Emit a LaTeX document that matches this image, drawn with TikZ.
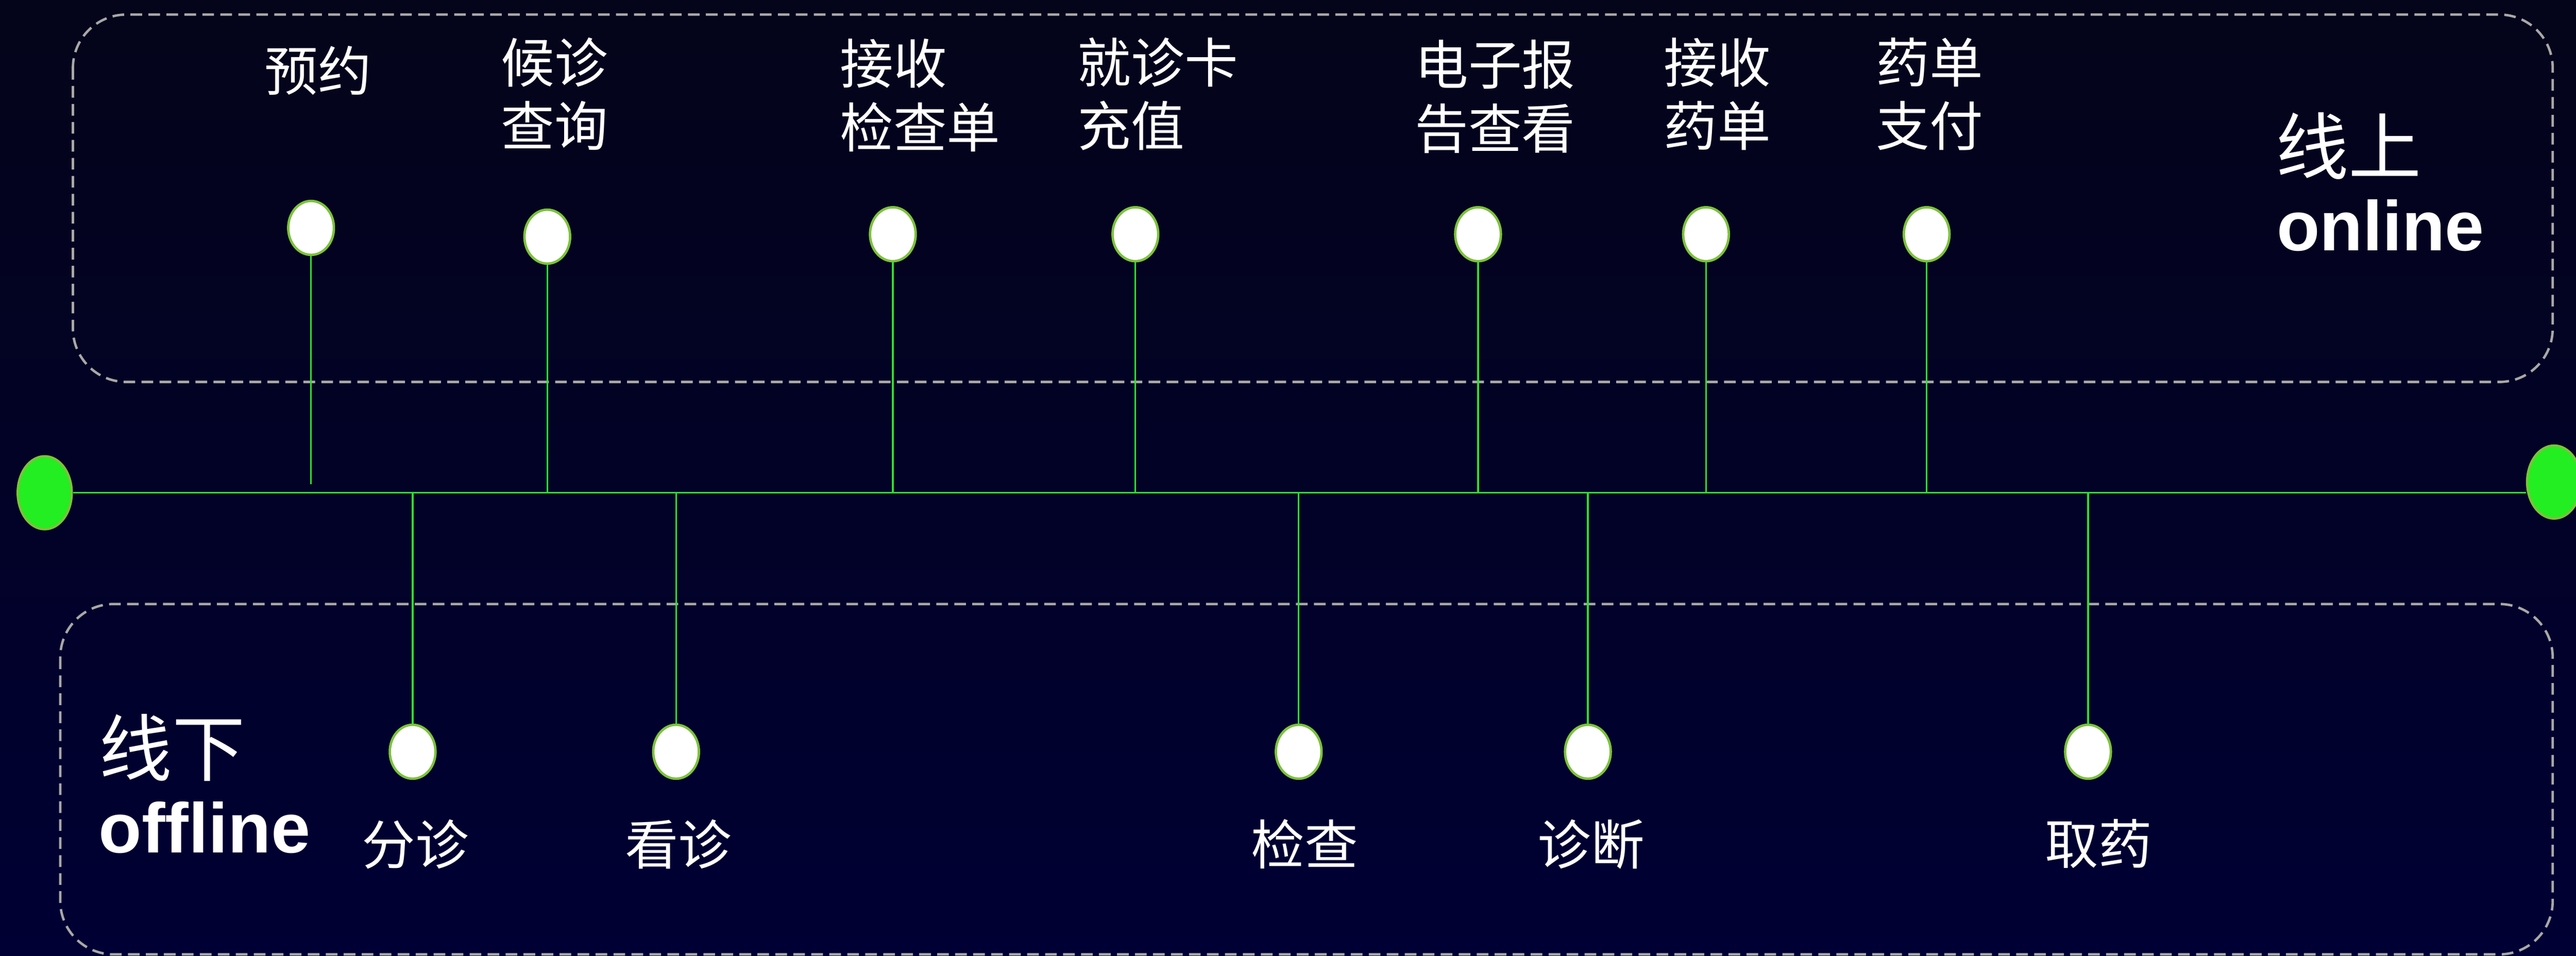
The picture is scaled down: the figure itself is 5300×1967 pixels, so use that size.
\documentclass[tikz,border=0pt]{standalone}
\usepackage{fontspec}
\usepackage{xcolor}
\usetikzlibrary{shapes.geometric}
\newfontfamily\cjk{Noto Sans CJK SC}
\newfontfamily\latin[Ligatures=CommonOff]{Liberation Sans}

\definecolor{bgtop}{HTML}{04041A}
\definecolor{bgbot}{HTML}{000034}
\definecolor{dashgray}{HTML}{A8A8A8}
\definecolor{linegreen}{HTML}{30DD30}
\definecolor{ringgreen}{HTML}{7CC23A}
\definecolor{dotgreen}{HTML}{22EE22}

\tikzset{
  stage/.style={ellipse, draw=ringgreen, line width=5pt, fill=white,
    minimum width=94pt, minimum height=111pt, inner sep=0pt},
  endpoint/.style={ellipse, draw=ringgreen, line width=5pt, fill=dotgreen,
    minimum width=111pt, minimum height=150pt, inner sep=0pt},
  stem/.style={draw=linegreen, line width=3.5pt},
  zone/.style={draw=dashgray, line width=5pt, dash pattern=on 24pt off 13pt,
    rounded corners=110pt},
  lbl/.style={text=white, inner sep=0pt, align=left,
    font=\cjk\fontsize{110}{131}\selectfont},
  zonecn/.style={text=white, inner sep=0pt, font=\cjk\fontsize{150}{150}\selectfont},
  zoneen/.style={text=white, inner sep=0pt, font=\latin\bfseries\fontsize{145}{145}\selectfont}
}

\begin{document}
\begin{tikzpicture}[x=1pt,y=-1pt]
  % Background
  \fill[top color=bgtop, bottom color=bgbot] (0,0) rectangle (5300,1967);
  \useasboundingbox (0,0) rectangle (5300,1967);

  % Online / offline zones
  \draw[zone] (150,30) rectangle (5252,786);
  \draw[zone] (124,1243) rectangle (5252,1964);
  \node[zonecn, anchor=north west] (oncn) at (4682,231) {线上};
  \node[zoneen, anchor=base west] (onen) at (4684,516) {online};
  \node[zonecn, anchor=north west] (offcn) at (204,1469) {线下};
  \node[zoneen, anchor=base west] (offen) at (203,1755) {offline};

  % Timeline
  \node[endpoint] (start) at (92,1014) {};
  \node[endpoint] (finish) at (5255,992) {};
  \draw[stem, line width=2.5pt] (start) -- (start -| finish.west);

  % Online steps
  \foreach \n/\x/\y/\e in {1/640/469/996, 2/1126/487/1014, 3/1837/482/1012,
      4/2336/482/1012, 5/3041/482/1012, 6/3510/482/1012, 7/3964/482/1012} {
    \node[stage] (t\n) at (\x,\y) {};
    \coordinate (e\n) at (\x,\e);
    \draw[stem] (t\n) -- (e\n);
  }
  \foreach \n/\x/\y/\txt in {1/544/95/预约, 2/1031/77/{候诊\\查询},
      3/1728/80/{接收\\检查单}, 4/2217/77/{就诊卡\\充值},
      5/2911/82/{电子报\\告查看}, 6/3423/77/{接收\\药单}, 7/3860/77/{药单\\支付}} {
    \node[lbl, anchor=north west] (tl\n) at (\x,\y) {\txt};
  }

  % Offline steps
  \foreach \n/\x/\lx/\txt in {1/849/855/分诊, 2/1391/1396/看诊, 3/2672/2684/检查,
      4/3267/3274/诊断, 5/4296/4318/取药} {
    \node[stage] (b\n) at (\x,1547) {};
    \coordinate (a\n) at (\x,1014);
    \draw[stem] (a\n) -- (b\n);
    \node[lbl, anchor=north] (bl\n) at (\lx,1686) {\txt};
  }
\end{tikzpicture}
\end{document}
